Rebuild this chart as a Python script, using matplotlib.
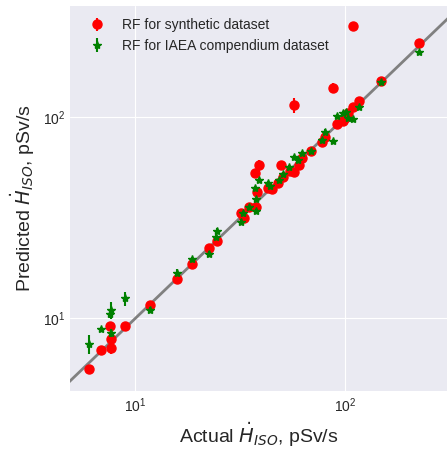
import numpy as np
import matplotlib
matplotlib.use('Agg')
import matplotlib.pyplot as plt

plt.style.use('seaborn-v0_8-darkgrid')
plt.rcParams['font.family'] = ['Liberation Sans', 'DejaVu Sans']

# RF for synthetic dataset: actual, predicted, error
syn_actual = [6.0, 6.9, 7.6, 7.7, 7.7, 8.9, 11.7, 15.9, 18.7, 22.5, 24.6,
              32.1, 33.0, 34.9, 37.7, 37.9, 37.3, 38.9, 43.1, 44.8, 49.5,
              48.1, 50.8, 54.7, 57.2, 60.6, 62.2, 57.4, 68.9, 77.4, 80.3,
              87.4, 91.9, 97.5, 100.0, 103.7, 109.6, 117.0, 109.6, 148.0, 225.0]
syn_pred = [5.6, 7.0, 9.2, 7.9, 7.1, 9.2, 11.7, 15.7, 18.6, 22.4, 24.3,
            33.3, 31.4, 35.6, 35.6, 42.4, 52.6, 57.7, 44.3, 43.9, 57.7,
            47.3, 50.6, 54.2, 53.6, 57.9, 62.5, 114.8, 67.9, 75.6, 80.1,
            139.2, 92.3, 96.2, 98.9, 105.4, 112.9, 119.6, 282.0, 152.0, 233.0]
syn_err = [0.1, 0.15, 0.2, 0.2, 0.4, 0.2, 0.4, 0.3, 0.3, 0.4, 0.6,
           1.0, 0.8, 0.7, 0.8, 1.0, 1.2, 3.5, 1.0, 1.0, 1.5,
           1.0, 1.0, 1.2, 1.2, 1.2, 1.5, 10.0, 1.5, 2.0, 2.0,
           8.0, 2.0, 2.0, 2.0, 2.0, 2.0, 2.5, 4.0, 3.0, 5.0]

# RF for IAEA compendium dataset
iaea_actual = [6.0, 6.9, 7.6, 7.7, 7.7, 8.9, 11.7, 15.9, 18.7, 22.5, 24.6,
               24.4, 32.1, 32.8, 34.9, 37.7, 37.7, 37.3, 38.9, 43.1, 44.0,
               48.6, 50.8, 54.3, 57.2, 59.8, 62.2, 68.7, 77.4, 80.3, 87.4,
               91.1, 97.5, 101.2, 103.7, 109.6, 117.0, 148.0, 225.0]
iaea_pred = [7.5, 8.85, 10.5, 11.0, 8.5, 12.6, 11.0, 16.9, 19.7, 21.0, 27.3,
             25.5, 30.3, 33.3, 35.6, 34.2, 39.1, 44.3, 48.8, 47.0, 45.7,
             48.8, 52.2, 56.8, 63.7, 61.3, 66.7, 67.9, 77.1, 84.8, 76.2,
             101.4, 104.7, 106.6, 98.9, 97.7, 112.9, 150.0, 210.0]
iaea_err = [0.8, 0.2, 0.4, 1.1, 0.4, 1.0, 0.4, 0.7, 0.5, 0.7, 0.8,
            0.8, 0.8, 0.8, 0.8, 0.8, 0.8, 1.0, 1.2, 1.0, 1.0,
            1.0, 1.2, 1.2, 1.5, 1.5, 1.5, 1.5, 2.0, 3.0, 1.5,
            2.0, 2.0, 2.0, 2.0, 2.0, 2.0, 3.0, 4.0]

fig = plt.figure(figsize=(4.47, 4.49), dpi=100)
ax = fig.add_subplot(111)
fig.subplots_adjust(left=0.157, right=1.0, top=0.987, bottom=0.129)

xlim = (4.9, 306)
ylim = (4.36, 357)
lo, hi = min(xlim[0], ylim[0]), max(xlim[1], ylim[1])
ax.plot([lo, hi], [lo, hi], color='gray', lw=2, zorder=1)

ax.errorbar(syn_actual, syn_pred, yerr=syn_err, fmt='o', color='red',
            ms=6.5, label='RF for synthetic dataset', zorder=2)
ax.errorbar(iaea_actual, iaea_pred, yerr=iaea_err, fmt='*', color='green',
            ms=6, label='RF for IAEA compendium dataset', zorder=3)

ax.set_xscale('log')
ax.set_yscale('log')
ax.set_xlim(*xlim)
ax.set_ylim(*ylim)

ax.set_xlabel(r'Actual $\dot{H}_{ISO}$, pSv/s', fontsize=14)
ax.set_ylabel(r'Predicted $\dot{H}_{ISO}$, pSv/s', fontsize=14)
ax.tick_params(labelsize=10)
ax.legend(loc='upper left', fontsize=10, frameon=False)

fig.savefig('out.png', dpi=100)
